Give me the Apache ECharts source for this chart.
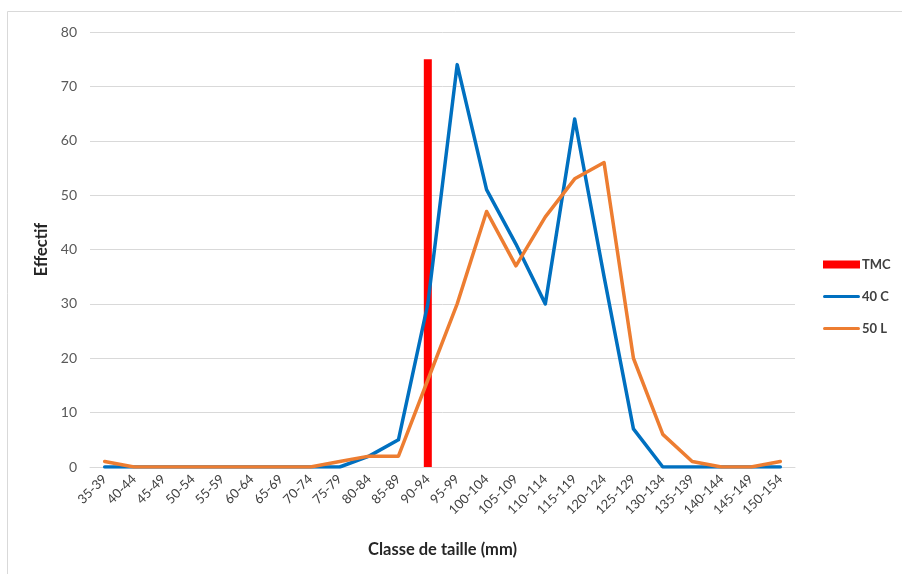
<!DOCTYPE html>
<html>
<head>
<meta charset="utf-8">
<script src="https://cdn.jsdelivr.net/npm/echarts@6/dist/echarts.min.js"></script>
<style>
  html, body { margin: 0; padding: 0; background: #fff; }
  #chart { width: 902px; height: 574px; }
</style>
</head>
<body>
<div id="chart"></div>
<script>
// Size classes (mm)
const classes = ['35-39','40-44','45-49','50-54','55-59','60-64','65-69','70-74','75-79','80-84',
  '85-89','90-94','95-99','100-104','105-109','110-114','115-119','120-124','125-129','130-134',
  '135-139','140-144','145-149','150-154'];

// Counts per size class
const counts40C = [0,0,0,0,0,0,0,0,0,2,5,30,74,51,41,30,64,35,7,0,0,0,0,0];
const counts50L = [1,0,0,0,0,0,0,0,1,2,2,16,30,47,37,46,53,56,20,6,1,0,0,1];

// Minimum catch size marker: one bar in the 90-94 class
const tmcClass = '90-94';
const tmcValue = 75;
const tmcData = classes.map(c => (c === tmcClass ? tmcValue : null));

const yTicks = { min: 0, max: 80, interval: 10 };

const font = 'Lato, "Liberation Sans", sans-serif';

// Thin horizontal stroke for line-series legend keys; the corner dots keep
// the path's bounding box at the full key size so it is not stretched.
const lineKey = 'path://M0,0L0.01,0L0.01,0.01Z M1.5,2.5 L35.5,2.5 A1.5,1.5 0 0 1 35.5,5.5 L1.5,5.5 A1.5,1.5 0 0 1 1.5,2.5 Z M36.99,7.99L37,7.99L37,8Z';

const chart = echarts.init(document.getElementById('chart'));
chart.setOption({
  animation: false,
  backgroundColor: '#ffffff',
  textStyle: { fontFamily: font },
  graphic: [{
    type: 'rect',
    shape: { x: 7.5, y: 11.5, width: 1000, height: 1000 },
    style: { fill: 'none', stroke: '#d9d9d9', lineWidth: 1 },
    silent: true
  }],
  grid: { left: 90, right: 107, top: 32, bottom: 107, containLabel: false },
  legend: {
    orient: 'vertical',
    left: 818,
    top: 253,
    itemWidth: 37,
    itemHeight: 8,
    itemGap: 19,
    textStyle: { fontFamily: font, fontSize: 13, fontWeight: 'bold', color: '#404040', padding: [0, 0, 0, -3] },
    data: [
      { name: 'TMC', icon: 'rect' },
      { name: '40 C', icon: lineKey },
      { name: '50 L', icon: lineKey }
    ]
  },
  xAxis: {
    type: 'category',
    data: classes,
    boundaryGap: true,
    name: 'Classe de taille (mm)',
    nameLocation: 'middle',
    nameGap: 74,
    nameTextStyle: { fontFamily: font, fontSize: 16.5, fontWeight: 'bold', color: '#262626' },
    axisLine: { show: true, lineStyle: { color: '#d9d9d9', width: 1 } },
    axisTick: { show: false },
    axisLabel: { rotate: 45, interval: 0, margin: 10, fontSize: 13, color: '#404040', fontFamily: font }
  },
  yAxis: {
    type: 'value',
    min: yTicks.min,
    max: yTicks.max,
    interval: yTicks.interval,
    name: 'Effectif',
    nameLocation: 'middle',
    nameGap: 36,
    nameTextStyle: { fontFamily: font, fontSize: 16.5, fontWeight: 'bold', color: '#262626' },
    axisLine: { show: false },
    axisTick: { show: false },
    axisLabel: { margin: 13, fontSize: 14, color: '#595959', fontFamily: font },
    splitLine: { lineStyle: { color: '#d9d9d9', width: 1 } }
  },
  series: [
    {
      name: 'TMC',
      type: 'bar',
      data: tmcData,
      barWidth: 8,
      itemStyle: { color: '#ff0000' },
      z: 2
    },
    {
      name: '40 C',
      type: 'line',
      data: counts40C,
      symbol: 'none',
      itemStyle: { color: '#0070c0' },
      lineStyle: { color: '#0070c0', width: 3.5, join: 'round', cap: 'round' },
      z: 3
    },
    {
      name: '50 L',
      type: 'line',
      data: counts50L,
      symbol: 'none',
      itemStyle: { color: '#ed7d31' },
      lineStyle: { color: '#ed7d31', width: 3.5, join: 'round', cap: 'round' },
      z: 4
    }
  ]
});
</script>
</body>
</html>
